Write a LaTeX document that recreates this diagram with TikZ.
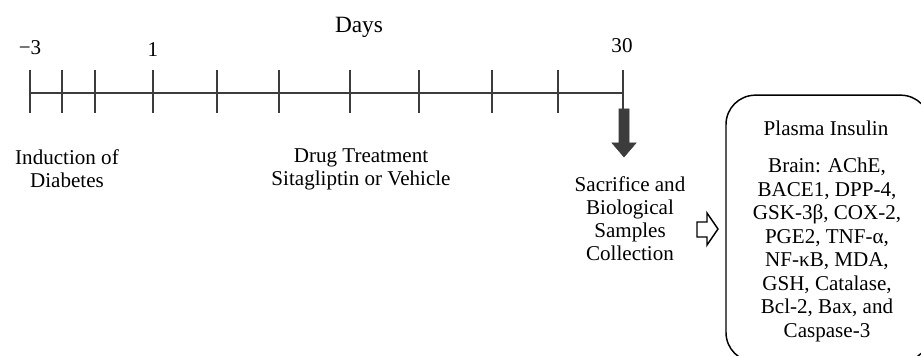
\documentclass[tikz,border=0pt]{standalone}
\usepackage{fontspec}
\setmainfont{Liberation Serif}
\definecolor{axisgray}{RGB}{60,60,60}
\begin{document}
\begin{tikzpicture}[x=0.75pt,y=-0.75pt,
  lbl/.style={font=\fontsize{15.8}{17.2}\selectfont, align=center, inner sep=0pt, text=black},
  bigtitle/.style={font=\fontsize{17.5}{19}\selectfont, inner sep=0pt, text=black},
  boxlbl/.style={font=\fontsize{15.8}{17.6}\selectfont, align=center, inner sep=0pt, text=black},
  axis/.style={line width=2.2pt, draw=axisgray},
  tick/.style={line width=2.2pt, draw=axisgray},
  bigarrow/.style={fill=axisgray, draw=axisgray, line width=0.4pt},
  hollowarrow/.style={draw=black, fill=white, line width=1.1pt, line join=miter},
  resultbox/.style={draw=black, line width=1.1pt, rounded corners=22pt, minimum width=153pt, minimum height=200pt, inner sep=0pt}]
\useasboundingbox (0,0) rectangle (921,356);
\clip (0,0) rectangle (921,356);
% timeline
\coordinate (tstart) at (30,93);
\coordinate (tend) at (623,93);
\draw[axis] (tstart) -- (tend);
\foreach \x/\n in {30/a,62/b,95/c,153/d,217/e,279/f,350/g,419/h,492/i,558/j,623/k}{
  \coordinate (tk\n) at (\x,93);
  \draw[tick] (\x,70) -- (\x,113);
}
% axis labels
\node[lbl] (lm3) at (30,48) {−3};
\node[lbl] (l1) at (153,50) {1};
\node[bigtitle] (ldays) at (359,27) {Days};
\node[lbl] (l30) at (622,46) {30};
% phase labels
\node[lbl] (induction) at (67,169) {Induction of\\Diabetes};
\node[lbl] (drug) at (361,169) {Drug Treatment\\Sitagliptin or Vehicle};
\node[lbl] (sacrifice) at (630,219) {Sacrifice and\\Biological\\Samples\\Collection};
% thick down arrow from day 30
\fill[bigarrow] (619,109) -- (629,109) -- (629,143) -- (636,143) -- (624,157) -- (612,143) -- (619,143) -- cycle;
% hollow arrow
\draw[hollowarrow] (697,222) -- (707,222) -- (707,213) -- (718,229) -- (707,245) -- (707,237) -- (697,237) -- cycle;
% result box
\node[resultbox] (box) at (828,228.5) {};
\node[boxlbl] (plasma) at (826,128) {Plasma Insulin};
\node[boxlbl] (brain) at (827,250) {Brain: AChE,\\BACE1, DPP-4,\\GSK-3β, COX-2,\\PGE2, TNF-α,\\NF-κB, MDA,\\GSH, Catalase,\\Bcl-2, Bax, and\\Caspase-3};
\end{tikzpicture}
\end{document}
